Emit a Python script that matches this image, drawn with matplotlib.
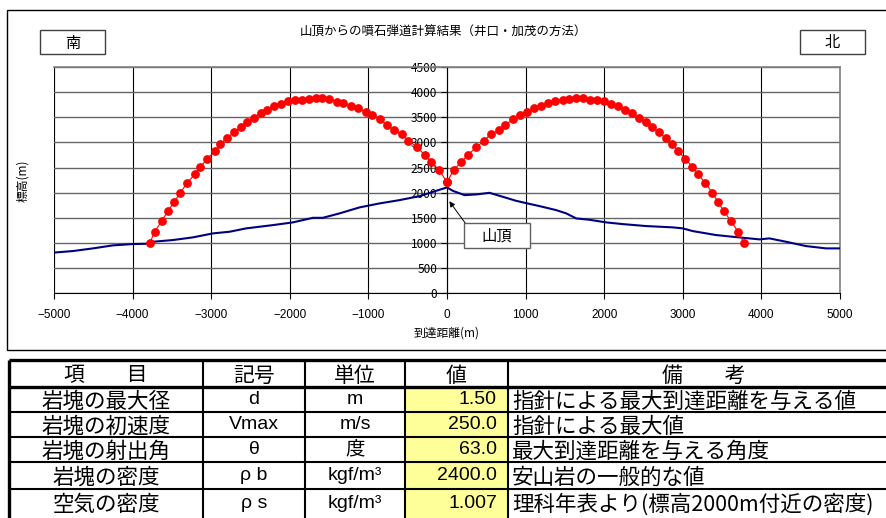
import matplotlib
matplotlib.use("Agg")
import matplotlib.pyplot as plt
from matplotlib.patches import Rectangle

plt.rcParams['font.family'] = ['Noto Sans CJK JP', 'DejaVu Sans']
LATIN = ['Liberation Sans', 'Noto Sans CJK JP']

# 弾道（南側）: 到達距離 m, 標高 m
south_x = [-3780, -3721, -3632, -3555, -3475, -3394, -3305, -3212, -3140, -3051,
           -2957, -2885, -2801, -2707, -2623, -2547, -2461, -2372, -2287, -2198,
           -2109, -2025, -1936, -1847, -1762, -1673, -1584, -1499, -1397, -1317,
           -1224, -1130, -1033, -948, -855, -761, -668, -575, -490, -388,
           -286, -201, -99, 0]
south_y = [1000, 1224, 1430, 1628, 1807, 1998, 2197, 2363, 2514, 2667,
           2826, 2965, 3090, 3203, 3309, 3408, 3495, 3587, 3654, 3726,
           3773, 3819, 3839, 3853, 3873, 3879, 3879, 3859, 3813, 3779,
           3720, 3686, 3601, 3547, 3462, 3342, 3243, 3158, 3031, 2919,
           2753, 2614, 2449, 2210]

# 弾道（北側）
north_x = [0, 83, 181, 270, 372, 465, 554, 656, 741, 843,
           932, 1015, 1113, 1198, 1288, 1377, 1470, 1554, 1643, 1732,
           1825, 1911, 2000, 2089, 2178, 2262, 2351, 2445, 2529, 2606,
           2694, 2780, 2865, 2941, 3034, 3123, 3199, 3284, 3377, 3450,
           3526, 3615, 3704, 3780]
north_y = [2210, 2449, 2608, 2760, 2900, 3031, 3158, 3243, 3349, 3462,
           3547, 3607, 3680, 3733, 3786, 3825, 3853, 3873, 3879, 3879,
           3853, 3839, 3819, 3773, 3726, 3654, 3587, 3495, 3408, 3309,
           3203, 3090, 2965, 2826, 2667, 2514, 2363, 2197, 1998, 1807,
           1628, 1430, 1224, 1000]

# 地形断面
terrain_x = [-5000, -4760, -4505, -4251, -3997, -3826, -3742, -3487, -3233, -2979,
             -2767, -2555, -2216, -1961, -1707, -1580, -1367, -1113, -859, -604,
             -350, -138, 0, 74, 223, 371, 541, 710, 880, 1007,
             1177, 1389, 1517, 1644, 1813, 2025, 2237, 2534, 2873, 3000,
             3127, 3424, 3636, 3975, 4102, 4314, 4568, 4822, 5000]
terrain_y = [810, 840, 893, 953, 979, 985, 1025, 1059, 1112, 1191,
             1224, 1291, 1356, 1410, 1501, 1501, 1589, 1708, 1787, 1853,
             1932, 2038, 2105, 2038, 1952, 1966, 1998, 1919, 1839, 1793,
             1734, 1654, 1589, 1489, 1462, 1410, 1376, 1337, 1311, 1291,
             1237, 1158, 1124, 1072, 1092, 1025, 939, 893, 893]

x_ticks = list(range(-5000, 5001, 1000))
y_ticks = list(range(0, 4501, 500))

# 計算条件の表
headers = ["項　　目", "記号", "単位", "値", "備　　考"]
items = ["岩塊の最大径", "岩塊の初速度", "岩塊の射出角", "岩塊の密度", "空気の密度"]
symbols = ["d", "Vmax", "θ", "ρ b", "ρ s"]
units = ["m", "m/s", "度", "kgf/m³", "kgf/m³"]
values = ["1.50", "250.0", "63.0", "2400.0", "1.007"]
notes = ["指針による最大到達距離を与える値", "指針による最大値", "最大到達距離を与える角度",
         "安山岩の一般的な値", "理科年表より(標高2000m付近の密度)"]

W, H = 887, 518
fig = plt.figure(figsize=(W / 100, H / 100), dpi=100)
fig.patch.set_facecolor("white")

ax = fig.add_axes([54 / W, (H - 293.3) / H, 786 / W, 226.3 / H])
ax.set_xlim(-5000, 5000)
ax.set_ylim(0, 4500)
ax.set_xticks(x_ticks)
ax.set_yticks(y_ticks)
ax.set_xticklabels([str(v).replace("-", "\u2212") for v in x_ticks], fontfamily=LATIN)
ax.set_yticklabels([str(v) for v in y_ticks], fontfamily=LATIN)
ax.tick_params(axis="both", labelsize=8.5, length=4, width=0.8, direction="out")
ax.tick_params(axis="x", pad=7)
ax.tick_params(axis="y", pad=3)

for s in ("top", "right"):
    ax.spines[s].set_color("#808080")
    ax.spines[s].set_linewidth(1.2)
ax.spines["left"].set_position(("data", 0))
ax.spines["left"].set_color("black")
ax.spines["bottom"].set_color("black")
ax.axvline(-5000, color="#808080", lw=1.5, zorder=0.5)

ax.xaxis.grid(True, color="black", lw=0.8)
ax.yaxis.grid(True, color="#666666", lw=1.0)
ax.set_axisbelow(True)

ax.plot(terrain_x, terrain_y, color="#000080", lw=1.5, zorder=3)
ax.plot(south_x, south_y, color="red", lw=0.8, marker="o", ms=5.3, zorder=4)
ax.plot(north_x, north_y, color="red", lw=0.8, marker="o", ms=5.3, zorder=4)

ax.set_xlabel("到達距離(m)", fontsize=8.5, labelpad=4)

# 山頂ラベル
ax.add_patch(Rectangle((210, 900), 840, 496, facecolor="white", edgecolor="#606060",
                       lw=1, zorder=5))
ax.text(630, 1148, "山頂", fontsize=11, ha="center", va="center", zorder=6)
ax.annotate("", xy=(30, 1830), xytext=(230, 1400),
            arrowprops=dict(arrowstyle="-|>", color="black", lw=0.7,
                            mutation_scale=8, shrinkA=0, shrinkB=0), zorder=6)

fig.text(443 / W, 1 - 32 / H, "山頂からの噴石弾道計算結果（井口・加茂の方法）",
         fontsize=9, ha="center", va="center")
fig.text(23 / W, 1 - 181 / H, "標高(m)", fontsize=8.5, rotation=90,
         ha="center", va="center")

# 枠・方位・表はピクセル座標のオーバーレイに描く
ov = fig.add_axes([0, 0, 1, 1])
ov.set_xlim(0, W)
ov.set_ylim(H, 0)
ov.axis("off")
ov.patch.set_alpha(0)

ov.add_patch(Rectangle((7, 10), 900, 340, fill=False, edgecolor="black", lw=1))
for x0, label in [(40, "南"), (800, "北")]:
    ov.add_patch(Rectangle((x0, 30), 65, 24, facecolor="white", edgecolor="#404040", lw=1))
    ov.text(x0 + 32.5, 43, label, fontsize=11, ha="center", va="center")

col_edges = [9, 203, 305, 405, 508, 905]
row_edges = [360, 387, 412, 437, 462, 489, 522]

for r in range(1, 6):
    ov.add_patch(Rectangle((col_edges[3], row_edges[r]), col_edges[4] - col_edges[3],
                           row_edges[r + 1] - row_edges[r], facecolor="#FFFF99",
                           edgecolor="none"))

for i, y in enumerate(row_edges[:-1]):
    lw = 2.4 if i in (0, 1) else 1.5
    ov.plot([col_edges[0], col_edges[-1]], [y, y], color="black", lw=lw,
            solid_capstyle="butt")
for j, x in enumerate(col_edges[:-1]):
    lw = 2.4 if j == 0 else 1.5
    ov.plot([x, x], [row_edges[0], row_edges[-1]], color="black", lw=lw,
            solid_capstyle="butt")

centers = [(col_edges[k] + col_edges[k + 1]) / 2 for k in range(5)]
hy = (row_edges[0] + row_edges[1]) / 2 + 2
for k, h in enumerate(headers):
    cx = centers[k] if k < 4 else 704
    ov.text(cx, hy, h, fontsize=15, ha="center", va="center")

for r in range(5):
    cy = (row_edges[r + 1] + row_edges[r + 2]) / 2
    if r == 4:
        cy = row_edges[5] + 14
    ov.text(centers[0], cy + 2, items[r], fontsize=15.5, ha="center", va="center")
    ov.text(centers[1], cy, symbols[r], fontsize=14, ha="center", va="center",
            fontfamily=LATIN)
    ov.text(centers[2], cy, units[r], fontsize=14, ha="center", va="center",
            fontfamily=LATIN)
    ov.text(col_edges[4] - 11, cy, values[r], fontsize=14, ha="right", va="center",
            fontfamily=LATIN)
    ov.text(col_edges[4] + 4, cy + 2, notes[r], fontsize=15.5, ha="left", va="center")

fig.savefig("out.png", dpi=100)
